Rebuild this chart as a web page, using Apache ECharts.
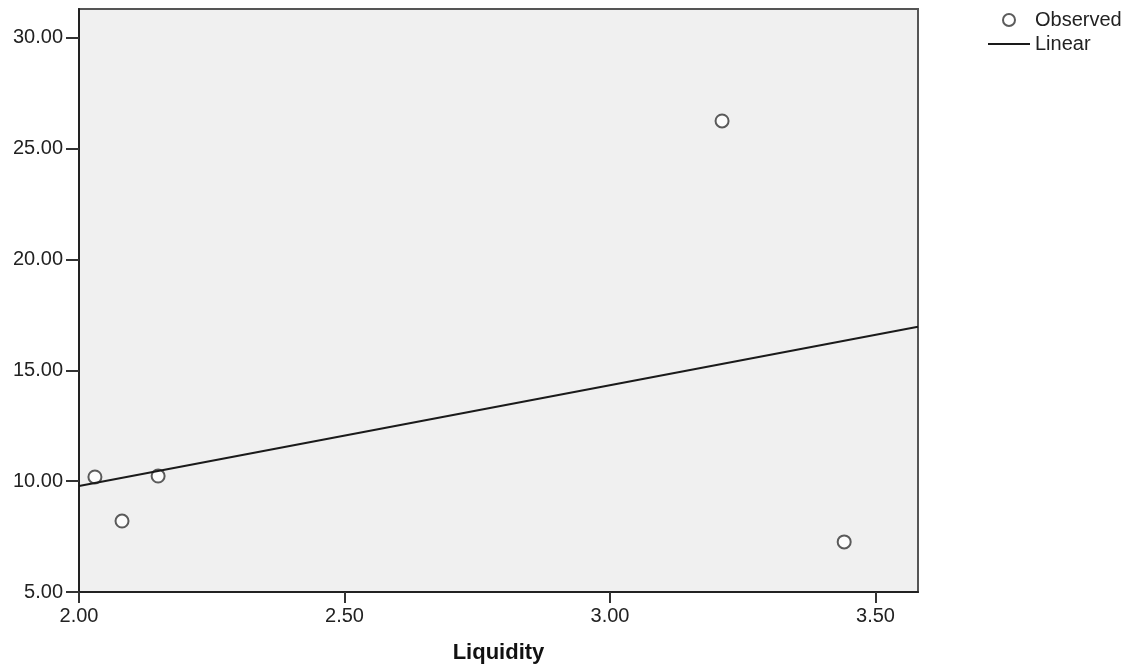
<!DOCTYPE html>
<html>
<head>
<meta charset="utf-8">
<script src="https://cdn.jsdelivr.net/npm/echarts@6/dist/echarts.min.js"></script>
<style>
  html, body { margin: 0; padding: 0; background: #fff; }
  #chart { width: 1133px; height: 671px; }
</style>
</head>
<body>
<div id="chart"></div>
<script>
// observed points (Liquidity, value)
var obsX = [2.03, 2.081, 2.149, 3.211, 3.441];
var obsY = [10.19, 8.2, 10.23, 26.25, 7.26];
// linear fit line, end points
var fitX = [2.0, 3.58];
var fitY = [9.78, 16.97];
var xTicks = [2.0, 2.5, 3.0, 3.5];
var yTicks = [5, 10, 15, 20, 25, 30];

var font = 'Liberation Sans, Arial, sans-serif';

function pairs(xs, ys) {
	var out = [];
	for (var i = 0; i < xs.length; i++) {
		out.push([xs[i], ys[i]]);
	}
	return out;
}

var myChart = echarts.init(document.getElementById('chart'));
var option = {
	animation: false,
	textStyle: { fontFamily: font },
	grid: {
		left: 79, top: 9, width: 839, height: 583,
		show: true,
		backgroundColor: '#f0f0f0',
		borderColor: '#555',
		borderWidth: 2
	},
	legend: {
		orient: 'vertical',
		left: 988,
		top: 9,
		padding: 0,
		itemWidth: 42,
		itemHeight: 12,
		itemGap: 2,
		textStyle: { fontSize: 20, color: '#222', lineHeight: 22, fontFamily: font },
		data: [
			{ name: 'Observed' },
			{ name: 'Linear', icon: 'path://M0,0L42,0L42,2L0,2Z' }
		]
	},
	xAxis: {
		type: 'value',
		min: 2.0,
		max: 3.58,
		interval: 0.5,
		name: 'Liquidity',
		nameLocation: 'middle',
		nameGap: 50,
		nameTextStyle: { fontSize: 22, fontWeight: 'bold', color: '#111', fontFamily: font },
		splitLine: { show: false },
		axisLine: { lineStyle: { color: '#222', width: 2 } },
		axisTick: { show: true, length: 11, lineStyle: { color: '#333', width: 2 }, customValues: xTicks },
		axisLabel: {
			fontSize: 20, color: '#222', margin: 14,
			customValues: xTicks,
			formatter: function(v) { return v.toFixed(2); }
		}
	},
	yAxis: {
		type: 'value',
		min: 5,
		max: 31.3,
		interval: 5,
		splitLine: { show: false },
		axisLine: { lineStyle: { color: '#222', width: 2 } },
		axisTick: { show: true, length: 13, lineStyle: { color: '#333', width: 2 }, customValues: yTicks },
		axisLabel: {
			fontSize: 20, color: '#222', margin: 16,
			customValues: yTicks,
			formatter: function(v) { return v.toFixed(2); }
		}
	},
	series: [{
		name: 'Observed',
		type: 'scatter',
		symbol: 'emptyCircle',
		symbolSize: 13,
		itemStyle: { color: '#333', borderColor: '#333', borderWidth: 2 },
		data: pairs(obsX, obsY)
	}, {
		name: 'Linear',
		type: 'line',
		symbol: 'none',
		lineStyle: { color: '#1a1a1a', width: 2 },
		itemStyle: { color: '#1a1a1a' },
		data: pairs(fitX, fitY)
	}]
};
myChart.setOption(option);
</script>
</body>
</html>
